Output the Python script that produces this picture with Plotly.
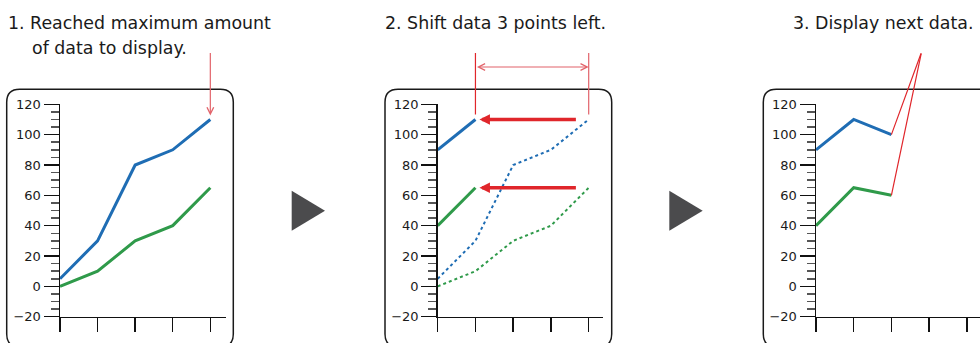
import plotly.graph_objects as go

# ---------------- data ----------------
x_points = [0, 1, 2, 3, 4]
blue_full = [5, 30, 80, 90, 110]
green_full = [0, 10, 30, 40, 65]
blue_shifted = [90, 110]
green_shifted = [40, 65]
blue_next = [90, 110, 100]
green_next = [40, 65, 60]
y_tick_vals = [-20, 0, 20, 40, 60, 80, 100, 120]
titles = {
    "p1a": "1. Reached maximum amount",
    "p1b": "of data to display.",
    "p2": "2. Shift data 3 points left.",
    "p3": "3. Display next data.",
}

# ---------------- style ----------------
W, H = 980, 343
BLUE = "#1f6db4"
GREEN = "#2f9a4a"
RED = "#e0262b"
RED_LIGHT = "#e2636a"
FONT = "DejaVu Sans"


def px(x):
    return x / W


def py(y):
    return 1 - y / H


fig = go.Figure()

# panel 1
fig.add_trace(go.Scatter(x=x_points, y=blue_full, mode="lines",
                         line=dict(color=BLUE, width=3), xaxis="x", yaxis="y"))
fig.add_trace(go.Scatter(x=x_points, y=green_full, mode="lines",
                         line=dict(color=GREEN, width=3), xaxis="x", yaxis="y"))
# panel 2
fig.add_trace(go.Scatter(x=x_points, y=blue_full, mode="lines",
                         line=dict(color=BLUE, width=2, dash="dot"), xaxis="x2", yaxis="y2"))
fig.add_trace(go.Scatter(x=x_points, y=green_full, mode="lines",
                         line=dict(color=GREEN, width=2, dash="dot"), xaxis="x2", yaxis="y2"))
fig.add_trace(go.Scatter(x=x_points[:2], y=blue_shifted, mode="lines",
                         line=dict(color=BLUE, width=3), xaxis="x2", yaxis="y2"))
fig.add_trace(go.Scatter(x=x_points[:2], y=green_shifted, mode="lines",
                         line=dict(color=GREEN, width=3), xaxis="x2", yaxis="y2"))
# panel 3
fig.add_trace(go.Scatter(x=x_points[:3], y=blue_next, mode="lines",
                         line=dict(color=BLUE, width=3), xaxis="x3", yaxis="y3"))
fig.add_trace(go.Scatter(x=x_points[:3], y=green_next, mode="lines",
                         line=dict(color=GREEN, width=3), xaxis="x3", yaxis="y3"))

ydom = [py(316.7), py(104.3)]


def xaxis_cfg(x0, x1, spacing, anchor):
    return dict(domain=[px(x0), px(x1)], range=[0, (x1 - x0) / spacing],
                tickvals=x_points, ticks="outside", ticklen=14, tickwidth=1.5,
                tickcolor="#111", showticklabels=False, showline=True,
                linecolor="#111", linewidth=1.5, showgrid=False, zeroline=False,
                anchor=anchor, fixedrange=True, automargin=False)


def yaxis_cfg(anchor):
    return dict(domain=ydom, range=[-20, 120], tickvals=y_tick_vals,
                ticks="outside", ticklen=15, tickwidth=1.5, tickcolor="#111",
                minor=dict(dtick=5, tick0=0, ticks="outside", ticklen=8,
                           tickwidth=1.5, tickcolor="#555"),
                showline=True, linecolor="#111", linewidth=1.5, showgrid=False,
                zeroline=False, anchor=anchor, fixedrange=True, automargin=False,
                tickfont=dict(family=FONT, size=13, color="#1a1a1a"))


fig.update_layout(
    template="none",
    width=W, height=H, autosize=False,
    margin=dict(l=0, r=0, t=0, b=0, pad=0, autoexpand=False),
    paper_bgcolor="white", plot_bgcolor="rgba(0,0,0,0)", showlegend=False,
    xaxis=xaxis_cfg(60, 226, 37.58, "y"),
    yaxis=yaxis_cfg("x"),
    xaxis2=xaxis_cfg(437.7, 603, 37.75, "y2"),
    yaxis2=yaxis_cfg("x2"),
    xaxis3=xaxis_cfg(816, 980, 37.7, "y3"),
    yaxis3=yaxis_cfg("x3"),
)


# rounded frames
def rounded(x0, y0, x1, y1, r):
    pts = [
        f"M {px(x0 + r)},{py(y0)}",
        f"L {px(x1 - r)},{py(y0)}",
        f"Q {px(x1)},{py(y0)} {px(x1)},{py(y0 + r)}",
        f"L {px(x1)},{py(y1 - r)}",
        f"Q {px(x1)},{py(y1)} {px(x1 - r)},{py(y1)}",
        f"L {px(x0 + r)},{py(y1)}",
        f"Q {px(x0)},{py(y1)} {px(x0)},{py(y1 - r)}",
        f"L {px(x0)},{py(y0 + r)}",
        f"Q {px(x0)},{py(y0)} {px(x0 + r)},{py(y0)} Z",
    ]
    return " ".join(pts)


for (a, b) in [(6.7, 233.3), (385, 611.7), (763.3, 1000)]:
    fig.add_shape(type="path", xref="paper", yref="paper",
                  path=rounded(a, 89.3, b, 347, 13),
                  line=dict(color="#1a1a1a", width=1.5), layer="below")


# grey arrow triangles between panels
def tri(x0, x1, yc, h):
    return f"M {px(x0)},{py(yc - h / 2)} L {px(x1)},{py(yc)} L {px(x0)},{py(yc + h / 2)} Z"


for (a, b) in [(291.7, 325), (669.3, 702.7)]:
    fig.add_shape(type="path", xref="paper", yref="paper", path=tri(a, b, 210.7, 40),
                  fillcolor="#4b4b4d", line=dict(width=0))

# titles
tfont = dict(family=FONT, size=17.4, color="#1a1a1a")
fig.add_annotation(x=px(6), y=py(23), xref="paper", yref="paper", text=titles["p1a"],
                   showarrow=False, xanchor="left", yanchor="middle", font=tfont)
fig.add_annotation(x=px(30), y=py(48), xref="paper", yref="paper", text=titles["p1b"],
                   showarrow=False, xanchor="left", yanchor="middle", font=tfont)
fig.add_annotation(x=px(383), y=py(23), xref="paper", yref="paper", text=titles["p2"],
                   showarrow=False, xanchor="left", yanchor="middle", font=tfont)
fig.add_annotation(x=px(791), y=py(23), xref="paper", yref="paper", text=titles["p3"],
                   showarrow=False, xanchor="left", yanchor="middle", font=tfont)

# panel 1 arrow pointing at the last point
fig.add_annotation(x=x_points[4], y=blue_full[4], xref="x", yref="y", ax=0, ay=-68,
                   text="", showarrow=True, arrowhead=5, arrowwidth=1.2, arrowsize=1.1,
                   arrowcolor=RED_LIGHT, standoff=4)

# panel 2 vertical guides
fig.add_annotation(x=x_points[1], y=blue_shifted[1], xref="x2", yref="y2", ax=0, ay=-68,
                   text="", showarrow=True, arrowhead=0, arrowwidth=1.2,
                   arrowcolor=RED, standoff=5)
fig.add_annotation(x=x_points[4], y=blue_full[4], xref="x2", yref="y2", ax=0, ay=-68,
                   text="", showarrow=True, arrowhead=0, arrowwidth=1.2,
                   arrowcolor=RED_LIGHT, standoff=5)
# horizontal double arrow spanning the shift (between the guides)
fig.add_annotation(x=x_points[4], y=py(67), xref="x2", yref="paper", ax=x_points[1], ay=0,
                   axref="x2", ayref="pixel", text="", showarrow=True, arrowside="end+start",
                   arrowhead=5, startarrowhead=5, arrowwidth=1.2, arrowsize=1.1,
                   startarrowsize=1.1, arrowcolor=RED_LIGHT, standoff=0, startstandoff=0)
# thick shift arrows
for yv in (blue_full[4], green_full[4]):
    fig.add_annotation(x=x_points[1], y=yv, xref="x2", yref="y2", ax=3.7, ay=yv,
                       axref="x2", ayref="y2", text="", showarrow=True, arrowhead=2,
                       arrowwidth=3.5, arrowsize=0.6, arrowcolor=RED, standoff=4)

# panel 3 leader lines
for yv in (blue_next[2], green_next[2]):
    fig.add_annotation(x=x_points[2], y=yv, xref="x3", yref="y3", ax=2.8, ay=154.5,
                       axref="x3", ayref="y3", text="", showarrow=True, arrowhead=0,
                       arrowwidth=1.2, arrowcolor=RED, standoff=0)

fig.write_html(
    "out.html",
    config={"displayModeBar": False, "staticPlot": True},
    post_script=("document.documentElement.style.margin='0';"
                 "document.body.style.margin='0';document.body.style.padding='0';"
                 "document.documentElement.style.overflow='hidden';"
                 "document.body.style.overflow='hidden';"),
)
